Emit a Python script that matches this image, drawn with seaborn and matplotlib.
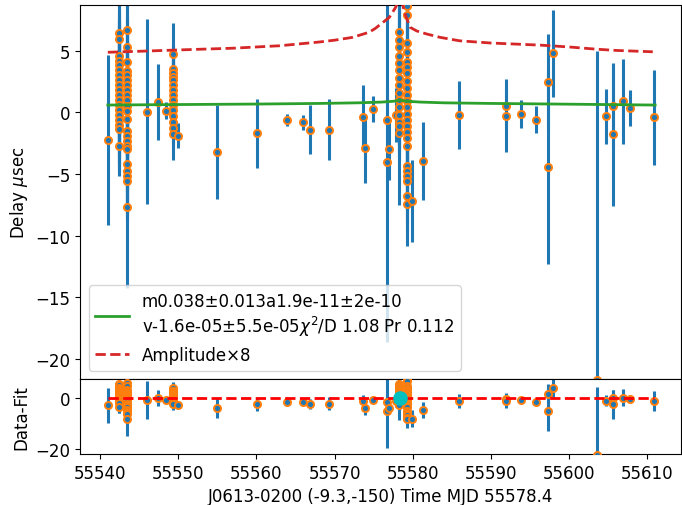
import numpy as np
import pandas as pd
import matplotlib
matplotlib.use("Agg")
import matplotlib.pyplot as plt
import seaborn as sns

plt.rcParams['font.size'] = 12
plt.rcParams['font.family'] = ['DejaVu Sans']

# ---- timing data (MJD, delay in usec, error in usec) ----
mjd = [55541.0,
       *[55542.43] * 19,
       *[55543.4] * 23,
       55545.97, 55547.46, 55548.44,
       *[55549.34] * 15,
       55549.98, 55555.0, 55560.04, 55563.9, 55565.9, 55566.9, 55569.3,
       55573.7, 55573.9, 55574.86, 55576.73, 55576.73, 55577.0, 55577.8,
       *[55578.3] * 15,
       *[55579.3] * 24,
       55579.85, 55581.34, 55585.9, 55591.9, 55591.9, 55593.8, 55595.8,
       55597.33, 55597.33, 55597.96, 55603.6, 55604.7, 55605.63, 55605.63,
       55606.9, 55607.8, 55610.9]
delay = [-2.25,
         6.4, 5.95, 4.6, 4.2, 3.8, 3.4, 3.0, 2.6, 2.2, 1.8, 1.4, 1.0, 0.6, 0.2, -0.2, -0.6, -1.0, -1.35, -2.7,
         6.67, 5.27, 4.05, 3.37, 3.0, 2.6, 2.2, 1.8, 1.4, 1.0, 0.5, 0.13, -0.54, -1.5, -1.9, -2.3, -2.7, -2.97,
         -4.19, -4.73, -5.14, -5.55, -7.65,
         0.05, 0.84, 0.13,
         4.73, 3.5, 3.2, 2.9, 2.6, 2.2, 1.8, 1.4, 1.0, 0.6, 0.2, -0.27, -0.81, -1.27, -1.76,
         -1.9, -3.24, -1.68, -0.62, -0.8, -1.4, -1.4,
         -0.41, -2.9, 0.27, -0.6, -4.0, -2.98, -0.2,
         6.49, 5.9, 5.3, 4.6, 4.0, 3.4, 2.8, 2.2, 1.6, 1.0, 0.4, -0.2, -0.8, -1.08, -1.68,
         8.6, 7.9, 5.6, 4.9, 4.05, 3.7, 3.2, 2.5, 2.0, 1.4, 0.9, 0.4, -0.1, -0.6, -1.1, -1.6, -2.1, -2.7,
         -4.33, -4.73, -5.14, -5.55, -6.76, -7.44,
         -7.2, -3.95, -0.22, 0.54, -0.27, -0.14, -0.6,
         2.48, -4.41, 4.78, -21.7, -0.32, 0.54, -1.76,
         0.89, 0.32, -0.41]
err = [6.9,
       2.5, 2.2, 3.0, 2.8, 3.5, 4.0, 3.2, 4.5, 7.0, 3.0, 4.0, 3.5, 5.8, 3.0, 2.6, 3.5, 2.5, 3.0, 2.4,
       3.0, 2.5, 3.5, 2.8, 4.0, 3.0, 3.6, 2.5, 5.0, 3.0, 4.0, 9.0, 3.0, 3.5, 3.0, 4.0, 3.0, 3.5,
       3.0, 2.5, 3.5, 2.8, 6.6,
       7.5, 3.1, 0.7,
       2.5, 2.0, 1.5, 2.5, 1.8, 2.0, 3.0, 2.2, 1.6, 2.5, 2.0, 1.5, 1.8, 1.4, 2.1,
       1.0, 3.8, 2.8, 0.5, 0.6, 2.0, 2.5,
       2.6, 2.8, 1.05, 2.5, 14.6, 2.5, 2.2,
       2.5, 3.0, 2.2, 4.5, 2.5, 3.0, 2.0, 3.5, 2.5, 8.5, 3.0, 2.5, 2.8, 2.0, 2.1,
       2.0, 2.5, 3.0, 2.5, 3.0, 2.0, 2.5, 3.0, 2.0, 2.5, 3.0, 2.0, 9.0, 2.5, 3.0, 2.0, 2.5, 3.0,
       2.5, 3.0, 2.0, 2.5, 3.0, 3.4,
       3.3, 3.2, 2.77, 1.5, 2.97, 1.15, 1.1,
       3.85, 7.9, 3.55, 26.7, 2.23, 3.4, 5.8,
       3.45, 1.45, 3.84]

# ---- fitted model curve (green) ----
fit_mjd = [55541.0, 55550.0, 55560.0, 55568.0, 55573.0, 55576.0, 55577.6, 55578.4,
           55579.2, 55581.0, 55584.0, 55590.0, 55600.0, 55611.0]
fit_delay = [0.59, 0.63, 0.67, 0.72, 0.77, 0.83, 0.90, 0.99,
             0.90, 0.83, 0.77, 0.72, 0.66, 0.59]

# ---- amplitude x8 curve (red dashed) ----
amp_mjd = [55541.0, 55545.0, 55552.0, 55557.0, 55563.0, 55568.0, 55570.0, 55572.3,
           55574.4, 55575.2, 55576.0, 55577.0, 55577.8, 55578.4, 55579.0, 55579.65,
           55580.5, 55581.8, 55583.5, 55586.0, 55590.0, 55596.3, 55600.0, 55603.5,
           55606.0, 55610.7]
amp_delay = [4.87, 4.95, 5.1, 5.2, 5.4, 5.7, 5.85, 6.08,
             6.49, 6.8, 7.2, 7.7, 8.5, 9.5, 8.0, 6.9,
             6.6, 6.35, 6.08, 5.8, 5.62, 5.45, 5.3, 5.12,
             5.02, 4.91]

zero_mjd = [55541.0, 55610.9]
zero_val = [0.0, 0.0]
epoch_mjd = [55578.4]
epoch_val = [0.0]

fit_label = ("m0.038\u00b10.013a1.9e-11\u00b12e-10\n"
             "v-1.6e-05\u00b15.5e-05$\\chi^2$/D 1.08 Pr 0.112")
amp_label = "Amplitude\u00d78"

df = pd.DataFrame({"mjd": mjd, "delay": delay, "err": err})
df["resid"] = df["delay"] - np.interp(df["mjd"], fit_mjd, fit_delay)

fig, (ax, axr) = plt.subplots(2, 1, sharex=True, figsize=(6.82, 5.06), dpi=100,
                              gridspec_kw=dict(height_ratios=[373.7, 75], hspace=0))
fig.subplots_adjust(left=80.3 / 682, right=680.7 / 682, top=1 - 6.3 / 506, bottom=1 - 455 / 506)

# top panel
ax.errorbar(df["mjd"], df["delay"], yerr=df["err"], fmt='none', ecolor='tab:blue',
            elinewidth=2.2, zorder=2)
sns.scatterplot(data=df, x="mjd", y="delay", ax=ax, color='tab:blue', edgecolor='tab:orange',
                linewidth=1.4, s=26, zorder=3, legend=False)
sns.lineplot(x=fit_mjd, y=fit_delay, ax=ax, color='tab:green', lw=2, label=fit_label, zorder=4)
sns.lineplot(x=amp_mjd, y=amp_delay, ax=ax, color='tab:red', lw=2, linestyle='--',
             label=amp_label, zorder=4)
ax.legend(loc='lower left', fontsize=12)
ax.set_ylim(-21.63, 8.68)
ax.set_ylabel("Delay $\\mu$sec")
ax.set_xlabel("")
ax.tick_params(labelbottom=False)

# bottom panel
axr.errorbar(df["mjd"], df["resid"], yerr=df["err"], fmt='none', ecolor='tab:blue',
             elinewidth=2.2, zorder=2)
sns.scatterplot(data=df, x="mjd", y="resid", ax=axr, color='tab:blue', edgecolor='tab:orange',
                linewidth=1.4, s=26, zorder=3, legend=False)
sns.lineplot(x=zero_mjd, y=zero_val, ax=axr, color='red', lw=2, linestyle='--', zorder=4)
sns.scatterplot(x=epoch_mjd, y=epoch_val, ax=axr, color='c', s=110, linewidth=0, zorder=5)
axr.set_ylim(-22, 7.6)
axr.set_yticks([0, -20])
axr.set_xlim(55537.48, 55614.27)
axr.set_xticks([55540, 55550, 55560, 55570, 55580, 55590, 55600, 55610])
axr.set_ylabel("Data-Fit")
axr.set_xlabel("J0613-0200 (-9.3,-150) Time MJD 55578.4")
fig.align_ylabels([ax, axr])

fig.savefig("out.png", dpi=100)
